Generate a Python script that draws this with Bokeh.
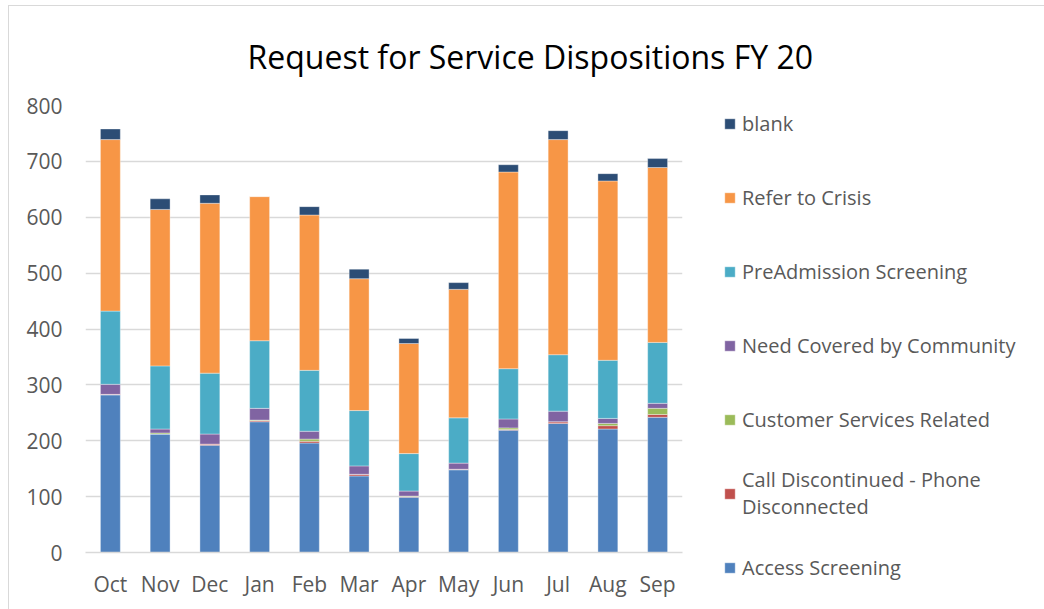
from bokeh.plotting import figure
from bokeh.models import ColumnDataSource, Legend, LegendItem, FixedTicker, Range1d, FactorRange
from bokeh.embed import file_html
from bokeh.resources import INLINE

months = ["Oct", "Nov", "Dec", "Jan", "Feb", "Mar", "Apr", "May", "Jun", "Jul", "Aug", "Sep"]
access_screening = [282, 212, 192, 234, 196, 137, 99, 148, 219, 231, 221, 242]
call_discontinued = [1, 0, 2, 2, 3, 3, 1, 1, 1, 3, 6, 5]
customer_services = [0, 2, 0, 1, 4, 0, 1, 0, 3, 0, 4, 11]
need_covered = [18, 7, 18, 21, 14, 15, 9, 11, 16, 19, 9, 9]
preadmission = [131, 113, 109, 121, 109, 99, 67, 81, 90, 101, 104, 109]
refer_to_crisis = [307, 280, 304, 258, 278, 236, 197, 230, 352, 385, 321, 313]
blank = [19, 19, 15, 0, 15, 17, 9, 12, 13, 16, 13, 16]

series_keys = ["access", "call", "cust", "need", "pre", "refer", "blank"]
series_labels = ["Access Screening", "Call Discontinued - Phone\nDisconnected",
                 "Customer Services Related", "Need Covered by Community",
                 "PreAdmission Screening", "Refer to Crisis", "blank"]
colors = ["#4F81BD", "#C0504D", "#9BBB59", "#8064A2", "#4BACC6", "#F79646", "#2C4D75"]

source = ColumnDataSource(data=dict(
    month=months, access=access_screening, call=call_discontinued, cust=customer_services,
    need=need_covered, pre=preadmission, refer=refer_to_crisis, blank=blank))

FONT = "Open Sans"
GRID = "#D9D9D9"
TXT = "#595959"

p = figure(x_range=FactorRange(*months), y_range=Range1d(0, 800),
           frame_width=597, frame_height=447, output_backend="svg", toolbar_location=None,
           min_border_left=85, min_border_right=0, min_border_top=105, min_border_bottom=57)
p.border_fill_color = None
p.background_fill_color = "white"
p.styles = {
    "background": "linear-gradient(#D9D9D9, #D9D9D9) 8px 5px / 1px 100% no-repeat, "
                  "linear-gradient(#D9D9D9, #D9D9D9) 8px 5px / 100% 1px no-repeat, white"
}

renderers = p.vbar_stack(series_keys, x="month", width=0.4, color=colors, source=source,
                         line_color="white", line_width=0.6, line_alpha=0.6)

p.title.text = "Request for Service Dispositions FY 20"
p.title.text_font = FONT
p.title.text_font_size = "32px"
p.title.text_font_style = "normal"
p.title.text_color = "black"
p.title.align = "left"
p.title.offset = 162
p.title.standoff = 52
p.title.vertical_align = "top"

p.x_range.range_padding = 0
p.x_range.group_padding = 0
p.yaxis.ticker = FixedTicker(ticks=[0, 100, 200, 300, 400, 500, 600, 700, 800])
for ax in (p.xaxis[0], p.yaxis[0]):
    ax.major_label_text_font = FONT
    ax.major_label_text_font_size = "21px"
    ax.major_label_text_color = TXT
    ax.major_tick_line_color = None
    ax.minor_tick_line_color = None
p.yaxis.axis_line_color = None
p.yaxis.major_label_standoff = 17
p.xaxis.axis_line_color = GRID
p.xaxis.axis_line_width = 1.3
p.xaxis.major_label_standoff = 11
p.xgrid.grid_line_color = None
p.ygrid.grid_line_color = GRID
p.ygrid.grid_line_width = 1.3
p.outline_line_color = None

order = [6, 5, 4, 3, 2, 1, 0]
items = [LegendItem(label=series_labels[i], renderers=[renderers[i]]) for i in order]
legend = Legend(items=items, location=(41, -43), orientation="vertical",
                label_text_font=FONT, label_text_font_size="20px", label_text_color=TXT,
                glyph_width=13, glyph_height=13, label_standoff=6, label_height=56,
                spacing=18, padding=0, margin=41, border_line_color=None,
                background_fill_alpha=0)
p.add_layout(legend, "right")

open("out.html", "w").write(file_html(p, INLINE))
